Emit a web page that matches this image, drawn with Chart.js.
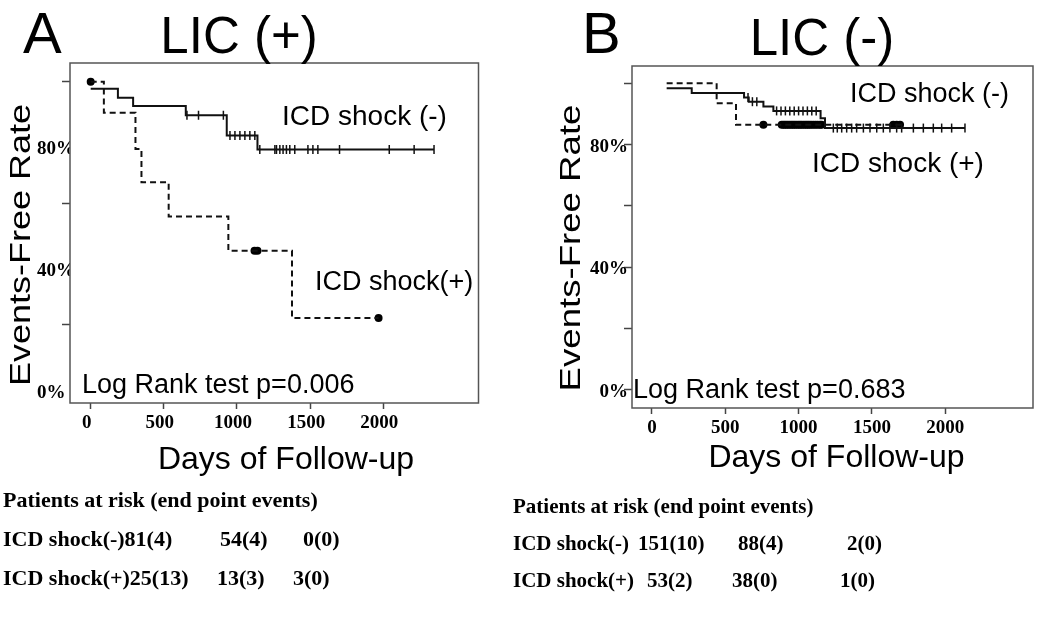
<!DOCTYPE html>
<html><head><meta charset="utf-8">
<script src="https://cdn.jsdelivr.net/npm/chart.js@4.4.0/dist/chart.umd.min.js"></script>
<style>
html,body{margin:0;padding:0;background:#fff;}
body{width:1050px;height:620px;position:relative;overflow:hidden;}
#cA{position:absolute;left:0;top:0;}
#cB{position:absolute;left:500px;top:0;}
canvas{display:block;}
</style></head><body>
<canvas id="cA" width="500" height="620"></canvas>
<canvas id="cB" width="550" height="620"></canvas>
<script>
// ---------- data ----------
const xTickVals = [0, 500, 1000, 1500, 2000];
const yTickVals = [0, 20, 40, 60, 80, 100];
const yLabelVals = [0, 40, 80];

// Panel A : LIC (+)
const daysA_neg = [0, 186, 290, 650, 930, 1140, 2347];
const survA_neg = [97.7, 94.7, 92.0, 89.0, 82.3, 77.7, 77.7];
const censorA_neg = [658, 737, 907, 952, 986, 1020, 1054, 1088, 1122, 1156, 1259, 1270, 1293, 1315, 1338, 1361, 1395, 1485, 1519, 1553, 1701, 2041, 2211, 2347];
const daysA_pos = [0, 90, 306, 347, 533, 941, 1376, 1968];
const survA_pos = [100, 89.8, 77.9, 66.9, 55.7, 44.4, 22.3, 22.3];
const censorA_pos = [0, 1120, 1140, 1968];

// Panel B : LIC (-)
const daysB_neg = [100, 271, 628, 660, 760, 828, 1150, 1180, 2135];
const survB_neg = [98.4, 96.8, 95.4, 94.0, 92.4, 91.0, 88.6, 85.4, 85.4];
const censorB_neg = [655, 685, 715, 850, 880, 910, 940, 970, 1000, 1030, 1060, 1090, 1120, 1237, 1264, 1294, 1328, 1362, 1396, 1442, 1487, 1533, 1578, 1623, 1669, 1703, 1783, 1851, 1919, 1976, 2044, 2135];
const daysB_pos = [100, 441, 573, 1703];
const survB_pos = [100, 93.5, 86.5, 86.5];
const censorB_pos = [760, 885, 898, 910, 922, 935, 948, 960, 972, 985, 998, 1010, 1022, 1035, 1048, 1060, 1072, 1085, 1100, 1115, 1130, 1146, 1157, 1646, 1669, 1692];

// Patients at risk (end point events)
const riskA_neg = ['81(4)', '54(4)', '0(0)'];
const riskA_pos = ['25(13)', '13(3)', '3(0)'];
const riskB_neg = ['151(10)', '88(4)', '2(0)'];
const riskB_pos = ['53(2)', '38(0)', '1(0)'];

// ---------- helpers ----------
const SANS = "'Liberation Sans', Arial, sans-serif";
const SERIF = "'Liberation Serif', 'Times New Roman', serif";

function levelAt(days, surv, t) {
  let v = surv[0];
  for (let i = 0; i < days.length; i++) if (days[i] <= t) v = surv[i];
  return v;
}
function pts(days, surv) { return days.map((d, i) => ({x: d, y: surv[i]})); }
function cens(times, days, surv) { return times.map(t => ({x: t, y: levelAt(days, surv, t)})); }

const textPlugin = {
  id: 'texts',
  afterDraw(chart, args, opts) {
    const ctx = chart.ctx;
    (opts.items || []).forEach(it => {
      ctx.save();
      ctx.fillStyle = '#000';
      ctx.font = it.font;
      ctx.textAlign = it.align || 'left';
      ctx.textBaseline = 'alphabetic';
      ctx.translate(it.x, it.y);
      if (it.rotate) ctx.rotate(it.rotate * Math.PI / 180);
      if (it.stretch) ctx.scale(it.stretch, 1);
      ctx.fillText(it.text, 0, 0);
      ctx.restore();
    });
  }
};
const boxPlugin = {
  id: 'box',
  beforeDatasetsDraw(chart) {
    const a = chart.chartArea, ctx = chart.ctx;
    ctx.save();
    ctx.strokeStyle = '#555';
    ctx.lineWidth = 1.5;
    ctx.strokeRect(a.left, a.top, a.right - a.left, a.bottom - a.top);
    ctx.restore();
  }
};

function makeChart(id, c) {
  const datasets = [
    {data: pts(c.dNeg, c.sNeg), stepped: 'before', borderColor: '#111', borderWidth: 2, pointRadius: 0, fill: false},
    {data: pts(c.dPos, c.sPos), stepped: 'before', borderColor: '#111', borderWidth: 2, borderDash: [6, 4], pointRadius: 0, fill: false},
    {data: cens(c.cNeg, c.dNeg, c.sNeg), showLine: false, pointStyle: 'line', rotation: 90, pointRadius: 4.5, borderWidth: 1.5, borderColor: '#111'},
    {data: cens(c.cPos, c.dPos, c.sPos), showLine: false, pointStyle: 'circle', pointRadius: 4, borderWidth: 0, backgroundColor: '#000', borderColor: '#000'}
  ];
  return new Chart(document.getElementById(id), {
    type: 'line',
    data: {datasets},
    plugins: [boxPlugin, textPlugin],
    options: {
      responsive: false, animation: false, devicePixelRatio: 1,
      layout: {padding: {top: c.padTop, right: c.padRight, left: c.padLeft, bottom: 0}},
      plugins: {legend: {display: false}, tooltip: {enabled: false}, texts: {items: c.texts}},
      scales: {
        x: {
          type: 'linear', min: c.xMin, max: c.xMax,
          afterFit: s => { s.height = c.xHeight; },
          afterBuildTicks: s => { s.ticks = xTickVals.map(v => ({value: v})); },
          border: {display: false},
          grid: {drawOnChartArea: false, tickLength: 6, tickWidth: 1.5, tickColor: '#444'},
          ticks: {color: '#000', padding: 3, labelOffset: c.xLabelOffset, maxRotation: 0,
                  font: {family: SERIF, weight: 'bold', size: 19},
                  callback: v => String(v)}
        },
        y: {
          type: 'linear', min: c.yMin, max: c.yMax,
          afterFit: s => { s.width = c.yWidth; },
          afterBuildTicks: s => { s.ticks = yTickVals.map(v => ({value: v})); },
          border: {display: false},
          grid: {drawOnChartArea: false, tickLength: 8, tickWidth: 1.5,
                 tickColor: ctx => (ctx.tick && c.yMarks.includes(ctx.tick.value)) ? '#444' : 'rgba(0,0,0,0)'},
          ticks: {color: '#000', padding: c.yPad, labelOffset: c.yLabelOffset, crossAlign: c.yAlign,
                  font: {family: SERIF, weight: 'bold', size: 19},
                  callback: v => yLabelVals.includes(v) ? v + '%' : ''}
        }
      }
    }
  });
}

const tA = `bold 22px ${SERIF}`;
makeChart('cA', {
  dNeg: daysA_neg, sNeg: survA_neg, cNeg: censorA_neg,
  dPos: daysA_pos, sPos: survA_pos, cPos: censorA_pos,
  xMin: -141.5, xMax: 2651, yMin: -5.66, yMax: 106.15,
  padLeft: 37, yWidth: 33, xHeight: 217, padTop: 63, padRight: 21.5,
  yMarks: [20, 60, 100], yPad: 0, yAlign: 'far', yLabelOffset: 7, xLabelOffset: -4,
  texts: [
    {text: 'A', x: 23, y: 53, font: `58px ${SANS}`},
    {text: 'LIC (+)', x: 239, y: 53, font: `51px ${SANS}`, align: 'center'},
    {text: 'Events-Free Rate', x: 30, y: 245, font: `30px ${SANS}`, align: 'center', rotate: -90, stretch: 1.2},
    {text: 'Days of Follow-up', x: 286, y: 469, font: `32px ${SANS}`, align: 'center'},
    {text: 'ICD shock (-)', x: 282, y: 125, font: `28px ${SANS}`},
    {text: 'ICD shock(+)', x: 315, y: 290, font: `27px ${SANS}`},
    {text: 'Log Rank test p=0.006', x: 82, y: 393, font: `27px ${SANS}`},
    {text: 'Patients at risk (end point events)', x: 3, y: 507, font: tA},
    {text: 'ICD shock(-)' + riskA_neg[0], x: 3, y: 546, font: tA},
    {text: riskA_neg[1], x: 220, y: 546, font: tA},
    {text: riskA_neg[2], x: 303, y: 546, font: tA},
    {text: 'ICD shock(+)' + riskA_pos[0], x: 3, y: 585, font: tA},
    {text: riskA_pos[1], x: 217, y: 585, font: tA},
    {text: riskA_pos[2], x: 293, y: 585, font: tA}
  ]
});

const tB = `bold 21px ${SERIF}`;
makeChart('cB', {
  dNeg: daysB_neg, sNeg: survB_neg, cNeg: censorB_neg,
  dPos: daysB_pos, sPos: survB_pos, cPos: censorB_pos,
  xMin: -136.4, xMax: 2599, yMin: -5.87, yMax: 105.64,
  padLeft: 0, yWidth: 132, xHeight: 212, padTop: 66, padRight: 17,
  yMarks: [0, 20, 40, 60, 80, 100], yPad: -4, yAlign: 'near', yLabelOffset: 2, xLabelOffset: 0,
  texts: [
    {text: 'B', x: 82, y: 53, font: `58px ${SANS}`},
    {text: 'LIC (-)', x: 322, y: 55, font: `51px ${SANS}`, align: 'center'},
    {text: 'Events-Free Rate', x: 80, y: 248, font: `30px ${SANS}`, align: 'center', rotate: -90, stretch: 1.22},
    {text: 'Days of Follow-up', x: 336.5, y: 467, font: `32px ${SANS}`, align: 'center'},
    {text: 'ICD shock (-)', x: 350, y: 102, font: `27px ${SANS}`},
    {text: 'ICD shock (+)', x: 312, y: 172, font: `28px ${SANS}`},
    {text: 'Log Rank test p=0.683', x: 133, y: 398, font: `27px ${SANS}`},
    {text: 'Patients at risk (end point events)', x: 13, y: 513, font: tB},
    {text: 'ICD shock(-)', x: 13, y: 550, font: tB},
    {text: riskB_neg[0], x: 138, y: 550, font: tB},
    {text: riskB_neg[1], x: 238, y: 550, font: tB},
    {text: riskB_neg[2], x: 347, y: 550, font: tB},
    {text: 'ICD shock(+)', x: 13, y: 587, font: tB},
    {text: riskB_pos[0], x: 147, y: 587, font: tB},
    {text: riskB_pos[1], x: 232, y: 587, font: tB},
    {text: riskB_pos[2], x: 340, y: 587, font: tB}
  ]
});
</script></body></html>
